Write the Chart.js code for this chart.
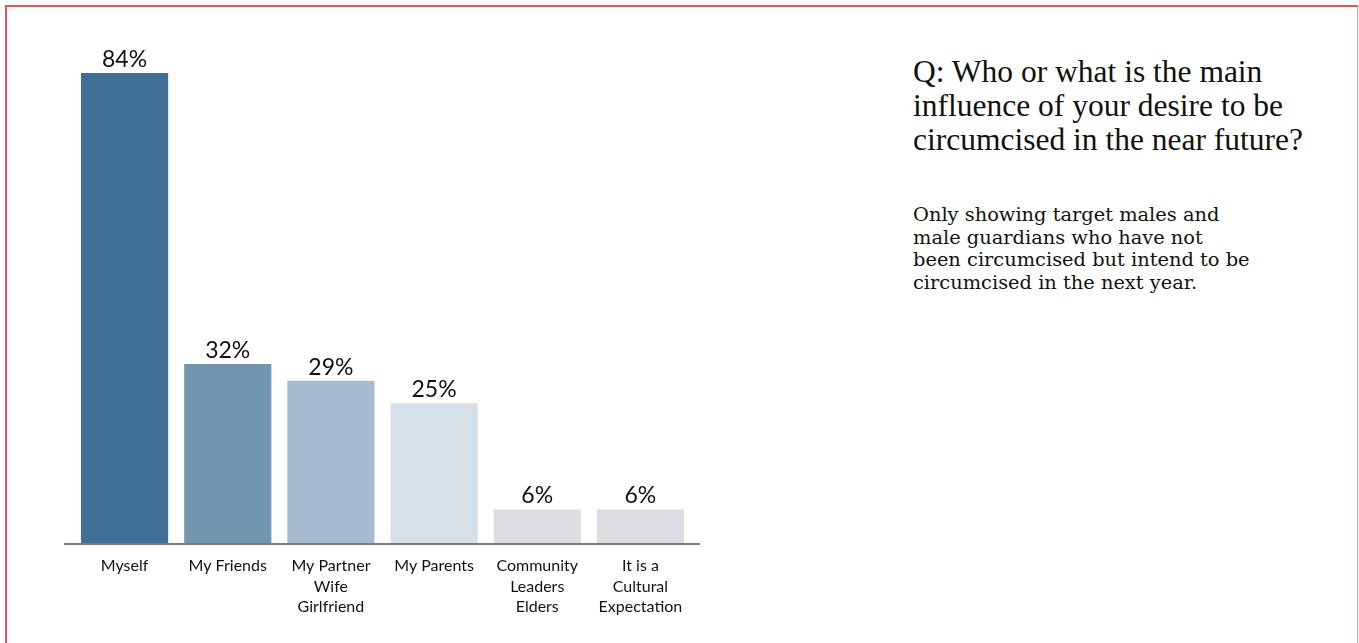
<!DOCTYPE html>
<html>
<head>
<meta charset="utf-8">
<script src="https://cdn.jsdelivr.net/npm/chart.js@4/dist/chart.umd.min.js"></script>
<style>
  html, body { margin: 0; padding: 0; background: #fff; overflow: hidden; }
  .frame {
    position: absolute; left: 5px; top: 5px; width: 1350px; height: 700px;
    border: 2px solid #d65a5a; border-right: 1px solid #e59a9a;
  }
  .chart-box { position: absolute; left: 0; top: 0; width: 720px; height: 643px; }
  .question {
    position: absolute; left: 913px; top: 55px; width: 440px;
    font-family: "Liberation Serif", "DejaVu Serif", serif;
    font-size: 31.5px; line-height: 34px; color: #111;
  }
  .note {
    position: absolute; left: 913px; top: 204px; width: 430px;
    font-family: "DejaVu Serif", "Liberation Serif", serif;
    font-size: 19.4px; line-height: 22.7px; color: #111;
  }
</style>
</head>
<body>
<div class="frame"></div>
<div class="chart-box"><canvas id="chart"></canvas></div>
<div class="question">Q: Who or what is the main<br>influence of your desire to be<br>circumcised in the near future?</div>
<div class="note">Only showing target males and<br>male guardians who have not<br>been circumcised but intend to be<br>circumcised in the next year.</div>

<script>
// Data
const categories = [
  ['Myself'],
  ['My Friends'],
  ['My Partner', 'Wife', 'Girlfriend'],
  ['My Parents'],
  ['Community', 'Leaders', 'Elders'],
  ['It is a', 'Cultural', 'Expectation']
];
const shares = [84, 32, 29, 25, 6, 6];
const barColors = ['#3f6f94', '#7196b0', '#a6bbcf', '#d6e0e9', '#dcdce1', '#dcdce1'];

const labelFont = '"Lato", "Noto Sans", sans-serif';

// percentage labels above each bar
const valueLabels = {
  id: 'valueLabels',
  afterDatasetsDraw(chart) {
    const ctx = chart.ctx;
    const meta = chart.getDatasetMeta(0);
    ctx.save();
    ctx.font = '23px ' + labelFont;
    ctx.fillStyle = '#111';
    ctx.textAlign = 'center';
    ctx.textBaseline = 'alphabetic';
    meta.data.forEach((bar, i) => {
      ctx.fillText(shares[i] + '%', bar.x, bar.y - 6);
    });
    ctx.restore();
  }
};

// baseline that runs a bit past the bars on both sides
const baseline = {
  id: 'baseline',
  afterDatasetsDraw(chart) {
    const { ctx, chartArea } = chart;
    ctx.save();
    ctx.strokeStyle = '#7a7a7a';
    ctx.lineWidth = 2;
    ctx.beginPath();
    ctx.moveTo(chartArea.left - 9, chartArea.bottom + 1);
    ctx.lineTo(chartArea.right + 8, chartArea.bottom + 1);
    ctx.stroke();
    ctx.restore();
  }
};

new Chart(document.getElementById('chart'), {
  type: 'bar',
  data: {
    labels: categories,
    datasets: [{
      data: shares,
      backgroundColor: barColors,
      borderWidth: 0,
      barPercentage: 0.845,
      categoryPercentage: 1
    }]
  },
  options: {
    responsive: true,
    maintainAspectRatio: false,
    animation: false,
    layout: { padding: { left: 73, right: 28, top: 73, bottom: 13 } },
    plugins: {
      legend: { display: false },
      tooltip: { enabled: false }
    },
    scales: {
      x: {
        grid: { display: false, drawTicks: false },
        border: { display: false },
        ticks: {
          color: '#111',
          padding: 13,
          maxRotation: 0,
          autoSkip: false,
          font: { family: labelFont, size: 16, lineHeight: 1.27 }
        }
      },
      y: {
        display: false,
        min: 0,
        max: 84
      }
    }
  },
  plugins: [valueLabels, baseline]
});
</script>
</body>
</html>
